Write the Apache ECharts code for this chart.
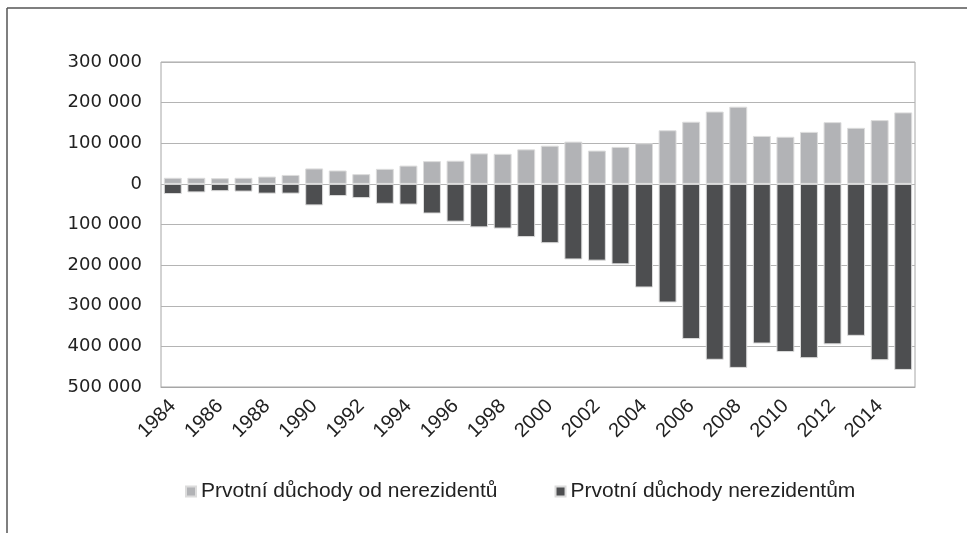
<!DOCTYPE html>
<html>
<head>
<meta charset="utf-8">
<script src="https://cdn.jsdelivr.net/npm/echarts@6/dist/echarts.min.js"></script>
<style>
  html, body { margin: 0; padding: 0; background: #fff; }
  #chart { width: 967px; height: 533px; }
</style>
</head>
<body>
<div id="chart"></div>
<script>
var years = ['1984', '1985', '1986', '1987', '1988', '1989', '1990', '1991', '1992', '1993',
  '1994', '1995', '1996', '1997', '1998', '1999', '2000', '2001', '2002', '2003',
  '2004', '2005', '2006', '2007', '2008', '2009', '2010', '2011', '2012', '2013',
  '2014', '2015'];

// Prvotní důchody od nerezidentů (kladné)
var fromNonResidents = [15000, 15000, 14000, 15000, 18000, 22000, 38000, 33000, 24000, 37000,
  45000, 56000, 57000, 75000, 74000, 85000, 94000, 104000, 82000, 91000,
  100000, 132000, 153000, 178000, 190000, 118000, 116000, 128000, 152000, 138000,
  157000, 176000];

// Prvotní důchody nerezidentům (záporné)
var toNonResidents = [-25000, -21000, -18000, -19000, -24000, -24000, -53000, -30000, -35000, -49000,
  -51000, -73000, -93000, -107000, -110000, -131000, -146000, -186000, -189000, -198000,
  -255000, -292000, -382000, -433000, -453000, -393000, -414000, -429000, -395000, -374000,
  -434000, -458000];

var seriesNames = ['Prvotní důchody od nerezidentů', 'Prvotní důchody nerezidentům'];

var chart = echarts.init(document.getElementById('chart'));
var option = {
  backgroundColor: '#fff',
  animation: false,
  textStyle: { fontFamily: 'Liberation Sans, Arial, sans-serif' },
  graphic: [
    { type: 'line', shape: { x1: 7, y1: 8, x2: 967, y2: 8 }, style: { stroke: '#555', lineWidth: 1.5 } },
    { type: 'line', shape: { x1: 7, y1: 8, x2: 7, y2: 533 }, style: { stroke: '#555', lineWidth: 1.5 } }
  ],
  legend: {
    data: seriesNames,
    top: 476,
    left: 180,
    itemWidth: 10,
    itemHeight: 10,
    itemGap: 57,
    icon: 'rect',
    textStyle: { fontSize: 21, color: '#222' }
  },
  grid: {
    left: 161,
    right: 52,
    top: 62,
    bottom: 146,
    show: true,
    borderColor: '#a6a6a6',
    borderWidth: 1
  },
  xAxis: {
    type: 'category',
    data: years,
    axisTick: { show: false },
    axisLine: { onZero: false, lineStyle: { color: '#a6a6a6' } },
    axisLabel: { interval: 1, rotate: 45, fontSize: 20, color: '#222', margin: 16 }
  },
  yAxis: {
    type: 'value',
    min: -500000,
    max: 300000,
    interval: 100000,
    axisTick: { show: false },
    axisLine: { show: false },
    axisLabel: {
      fontSize: 18,
      fontFamily: 'DejaVu Sans',
      color: '#222',
      margin: 19,
      formatter: function (v) {
        return String(Math.abs(v)).replace(/\B(?=(\d{3})+(?!\d))/g, ' ');
      }
    },
    splitLine: { show: true, lineStyle: { color: '#b4b4b4' } }
  },
  series: [{
    name: seriesNames[0],
    type: 'bar',
    stack: 'total',
    barCategoryGap: '24%',
    itemStyle: { color: '#b2b3b6', borderColor: '#dcdcdc', borderWidth: 1 },
    data: fromNonResidents
  },
  {
    name: seriesNames[1],
    type: 'bar',
    stack: 'total',
    barCategoryGap: '24%',
    itemStyle: { color: '#4d4e50', borderColor: '#dcdcdc', borderWidth: 1 },
    data: toNonResidents
  }]
};
chart.setOption(option, true);
</script>
</body>
</html>
